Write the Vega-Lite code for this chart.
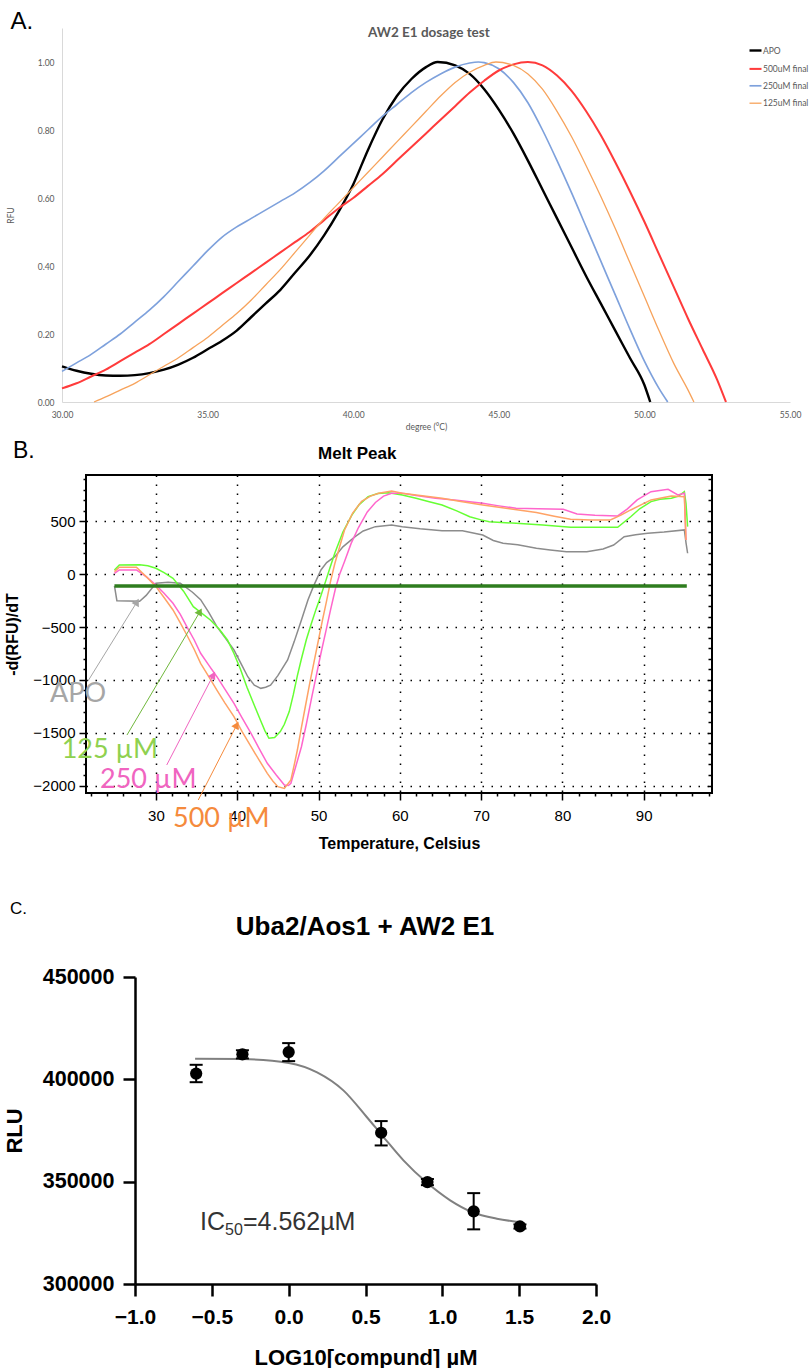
{
  "$schema": "https://vega.github.io/schema/vega-lite/v6.json",
  "padding": {"left": 3, "top": 10, "right": 0, "bottom": 0},
  "autosize": {"type": "pad"},
  "config": {
    "view": {"stroke": null},
    "font": "Liberation Sans",
    "axis": {"labelFont": "Liberation Sans", "titleFont": "Liberation Sans"},
    "title": {"font": "Liberation Sans"}
  },
  "datasets": {
    "melt": [
      {"series":"APO","T":30.0,"RFU":0.105},{"series":"APO","T":30.5,"RFU":0.092},{"series":"APO","T":31.0,"RFU":0.083},{"series":"APO","T":31.5,"RFU":0.078},{"series":"APO","T":32.0,"RFU":0.077},{"series":"APO","T":32.5,"RFU":0.079},{"series":"APO","T":33.0,"RFU":0.085},{"series":"APO","T":33.5,"RFU":0.095},{"series":"APO","T":34.0,"RFU":0.11},{"series":"APO","T":34.5,"RFU":0.13},{"series":"APO","T":35.0,"RFU":0.155},{"series":"APO","T":35.5,"RFU":0.18},{"series":"APO","T":36.0,"RFU":0.21},{"series":"APO","T":36.5,"RFU":0.25},{"series":"APO","T":37.0,"RFU":0.29},{"series":"APO","T":37.5,"RFU":0.33},{"series":"APO","T":38.0,"RFU":0.38},{"series":"APO","T":38.5,"RFU":0.43},{"series":"APO","T":39.0,"RFU":0.49},{"series":"APO","T":39.5,"RFU":0.56},{"series":"APO","T":40.0,"RFU":0.64},{"series":"APO","T":40.5,"RFU":0.74},{"series":"APO","T":41.0,"RFU":0.83},{"series":"APO","T":41.5,"RFU":0.9},{"series":"APO","T":42.0,"RFU":0.95},{"series":"APO","T":42.5,"RFU":0.985},{"series":"APO","T":42.9,"RFU":1.0},{"series":"APO","T":43.5,"RFU":0.99},{"series":"APO","T":44.0,"RFU":0.965},{"series":"APO","T":44.5,"RFU":0.92},{"series":"APO","T":45.0,"RFU":0.86},{"series":"APO","T":45.5,"RFU":0.79},{"series":"APO","T":46.0,"RFU":0.71},{"series":"APO","T":46.5,"RFU":0.625},{"series":"APO","T":47.0,"RFU":0.54},{"series":"APO","T":47.5,"RFU":0.455},{"series":"APO","T":48.0,"RFU":0.37},{"series":"APO","T":48.5,"RFU":0.29},{"series":"APO","T":49.0,"RFU":0.21},{"series":"APO","T":49.5,"RFU":0.13},{"series":"APO","T":50.0,"RFU":0.05},{"series":"APO","T":50.2,"RFU":0.0},
      {"series":"250uM final","T":30.0,"RFU":0.09},{"series":"250uM final","T":30.5,"RFU":0.115},{"series":"250uM final","T":31.0,"RFU":0.14},{"series":"250uM final","T":31.5,"RFU":0.17},{"series":"250uM final","T":32.0,"RFU":0.2},{"series":"250uM final","T":32.5,"RFU":0.235},{"series":"250uM final","T":33.0,"RFU":0.27},{"series":"250uM final","T":33.5,"RFU":0.31},{"series":"250uM final","T":34.0,"RFU":0.355},{"series":"250uM final","T":34.5,"RFU":0.4},{"series":"250uM final","T":35.0,"RFU":0.445},{"series":"250uM final","T":35.5,"RFU":0.485},{"series":"250uM final","T":36.0,"RFU":0.515},{"series":"250uM final","T":36.5,"RFU":0.54},{"series":"250uM final","T":37.0,"RFU":0.565},{"series":"250uM final","T":37.5,"RFU":0.59},{"series":"250uM final","T":38.0,"RFU":0.615},{"series":"250uM final","T":38.5,"RFU":0.645},{"series":"250uM final","T":39.0,"RFU":0.68},{"series":"250uM final","T":39.5,"RFU":0.72},{"series":"250uM final","T":40.0,"RFU":0.76},{"series":"250uM final","T":40.5,"RFU":0.8},{"series":"250uM final","T":41.0,"RFU":0.84},{"series":"250uM final","T":41.5,"RFU":0.875},{"series":"250uM final","T":42.0,"RFU":0.91},{"series":"250uM final","T":42.5,"RFU":0.94},{"series":"250uM final","T":43.0,"RFU":0.965},{"series":"250uM final","T":43.5,"RFU":0.985},{"series":"250uM final","T":44.0,"RFU":0.997},{"series":"250uM final","T":44.3,"RFU":1.0},{"series":"250uM final","T":44.5,"RFU":0.998},{"series":"250uM final","T":45.0,"RFU":0.98},{"series":"250uM final","T":45.5,"RFU":0.94},{"series":"250uM final","T":46.0,"RFU":0.88},{"series":"250uM final","T":46.5,"RFU":0.8},{"series":"250uM final","T":47.0,"RFU":0.71},{"series":"250uM final","T":47.5,"RFU":0.615},{"series":"250uM final","T":48.0,"RFU":0.515},{"series":"250uM final","T":48.5,"RFU":0.415},{"series":"250uM final","T":49.0,"RFU":0.315},{"series":"250uM final","T":49.5,"RFU":0.215},{"series":"250uM final","T":50.0,"RFU":0.12},{"series":"250uM final","T":50.5,"RFU":0.04},{"series":"250uM final","T":50.8,"RFU":0.0},
      {"series":"500uM final","T":30.0,"RFU":0.04},{"series":"500uM final","T":30.5,"RFU":0.055},{"series":"500uM final","T":31.0,"RFU":0.075},{"series":"500uM final","T":31.5,"RFU":0.095},{"series":"500uM final","T":32.0,"RFU":0.12},{"series":"500uM final","T":32.5,"RFU":0.145},{"series":"500uM final","T":33.0,"RFU":0.17},{"series":"500uM final","T":33.5,"RFU":0.2},{"series":"500uM final","T":34.0,"RFU":0.23},{"series":"500uM final","T":34.5,"RFU":0.26},{"series":"500uM final","T":35.0,"RFU":0.29},{"series":"500uM final","T":35.5,"RFU":0.32},{"series":"500uM final","T":36.0,"RFU":0.35},{"series":"500uM final","T":36.5,"RFU":0.38},{"series":"500uM final","T":37.0,"RFU":0.41},{"series":"500uM final","T":37.5,"RFU":0.44},{"series":"500uM final","T":38.0,"RFU":0.47},{"series":"500uM final","T":38.5,"RFU":0.5},{"series":"500uM final","T":39.0,"RFU":0.535},{"series":"500uM final","T":39.5,"RFU":0.57},{"series":"500uM final","T":40.0,"RFU":0.6},{"series":"500uM final","T":40.5,"RFU":0.635},{"series":"500uM final","T":41.0,"RFU":0.67},{"series":"500uM final","T":41.5,"RFU":0.71},{"series":"500uM final","T":42.0,"RFU":0.75},{"series":"500uM final","T":42.5,"RFU":0.79},{"series":"500uM final","T":43.0,"RFU":0.83},{"series":"500uM final","T":43.5,"RFU":0.87},{"series":"500uM final","T":44.0,"RFU":0.91},{"series":"500uM final","T":44.5,"RFU":0.945},{"series":"500uM final","T":45.0,"RFU":0.975},{"series":"500uM final","T":45.5,"RFU":0.993},{"series":"500uM final","T":46.0,"RFU":1.0},{"series":"500uM final","T":46.5,"RFU":0.99},{"series":"500uM final","T":47.0,"RFU":0.96},{"series":"500uM final","T":47.5,"RFU":0.915},{"series":"500uM final","T":48.0,"RFU":0.855},{"series":"500uM final","T":48.5,"RFU":0.785},{"series":"500uM final","T":49.0,"RFU":0.705},{"series":"500uM final","T":49.5,"RFU":0.62},{"series":"500uM final","T":50.0,"RFU":0.53},{"series":"500uM final","T":50.5,"RFU":0.435},{"series":"500uM final","T":51.0,"RFU":0.34},{"series":"500uM final","T":51.5,"RFU":0.245},{"series":"500uM final","T":52.0,"RFU":0.155},{"series":"500uM final","T":52.5,"RFU":0.065},{"series":"500uM final","T":52.8,"RFU":0.0},
      {"series":"125uM final","T":31.1,"RFU":0.0},{"series":"125uM final","T":31.5,"RFU":0.015},{"series":"125uM final","T":32.0,"RFU":0.035},{"series":"125uM final","T":32.5,"RFU":0.055},{"series":"125uM final","T":33.0,"RFU":0.08},{"series":"125uM final","T":33.5,"RFU":0.105},{"series":"125uM final","T":34.0,"RFU":0.13},{"series":"125uM final","T":34.5,"RFU":0.16},{"series":"125uM final","T":35.0,"RFU":0.19},{"series":"125uM final","T":35.5,"RFU":0.225},{"series":"125uM final","T":36.0,"RFU":0.26},{"series":"125uM final","T":36.5,"RFU":0.3},{"series":"125uM final","T":37.0,"RFU":0.345},{"series":"125uM final","T":37.5,"RFU":0.39},{"series":"125uM final","T":38.0,"RFU":0.44},{"series":"125uM final","T":38.5,"RFU":0.49},{"series":"125uM final","T":39.0,"RFU":0.54},{"series":"125uM final","T":39.5,"RFU":0.585},{"series":"125uM final","T":40.0,"RFU":0.63},{"series":"125uM final","T":40.5,"RFU":0.675},{"series":"125uM final","T":41.0,"RFU":0.72},{"series":"125uM final","T":41.5,"RFU":0.765},{"series":"125uM final","T":42.0,"RFU":0.81},{"series":"125uM final","T":42.5,"RFU":0.855},{"series":"125uM final","T":43.0,"RFU":0.9},{"series":"125uM final","T":43.5,"RFU":0.94},{"series":"125uM final","T":44.0,"RFU":0.97},{"series":"125uM final","T":44.5,"RFU":0.99},{"series":"125uM final","T":44.9,"RFU":1.0},{"series":"125uM final","T":45.5,"RFU":0.99},{"series":"125uM final","T":46.0,"RFU":0.965},{"series":"125uM final","T":46.5,"RFU":0.92},{"series":"125uM final","T":47.0,"RFU":0.855},{"series":"125uM final","T":47.5,"RFU":0.78},{"series":"125uM final","T":48.0,"RFU":0.695},{"series":"125uM final","T":48.5,"RFU":0.605},{"series":"125uM final","T":49.0,"RFU":0.51},{"series":"125uM final","T":49.5,"RFU":0.41},{"series":"125uM final","T":50.0,"RFU":0.31},{"series":"125uM final","T":50.5,"RFU":0.21},{"series":"125uM final","T":51.0,"RFU":0.115},{"series":"125uM final","T":51.5,"RFU":0.035},{"series":"125uM final","T":51.7,"RFU":0.0}
    ],
    "peak": [
      {"series":"APO","T":24.9,"v":-110},{"series":"APO","T":25.2,"v":-250},{"series":"APO","T":28.0,"v":-255},{"series":"APO","T":28.8,"v":-200},{"series":"APO","T":30.0,"v":-85},{"series":"APO","T":31.5,"v":-75},{"series":"APO","T":33.0,"v":-85},{"series":"APO","T":34.5,"v":-170},{"series":"APO","T":35.5,"v":-240},{"series":"APO","T":36.5,"v":-360},{"series":"APO","T":37.5,"v":-496},{"series":"APO","T":38.5,"v":-600},{"series":"APO","T":39.6,"v":-717},{"series":"APO","T":40.5,"v":-850},{"series":"APO","T":41.3,"v":-970},{"series":"APO","T":42.1,"v":-1050},{"series":"APO","T":42.9,"v":-1080},{"series":"APO","T":43.5,"v":-1070},{"series":"APO","T":44.1,"v":-1050},{"series":"APO","T":45.0,"v":-960},{"series":"APO","T":46.2,"v":-811},{"series":"APO","T":47.0,"v":-640},{"series":"APO","T":47.9,"v":-433},{"series":"APO","T":48.7,"v":-243},{"series":"APO","T":49.4,"v":-110},{"series":"APO","T":50.3,"v":41},{"series":"APO","T":51.0,"v":110},{"series":"APO","T":52.0,"v":167},{"series":"APO","T":53.0,"v":260},{"series":"APO","T":54.5,"v":356},{"series":"APO","T":55.5,"v":410},{"series":"APO","T":57.0,"v":451},{"series":"APO","T":59.0,"v":467},{"series":"APO","T":60.3,"v":451},{"series":"APO","T":62.5,"v":430},{"series":"APO","T":65.2,"v":413},{"series":"APO","T":67.7,"v":413},{"series":"APO","T":70.2,"v":372},{"series":"APO","T":71.5,"v":320},{"series":"APO","T":72.7,"v":294},{"series":"APO","T":74.5,"v":280},{"series":"APO","T":76.8,"v":246},{"series":"APO","T":78.5,"v":230},{"series":"APO","T":80.5,"v":214},{"series":"APO","T":83.0,"v":214},{"series":"APO","T":85.0,"v":240},{"series":"APO","T":86.3,"v":277},{"series":"APO","T":87.6,"v":356},{"series":"APO","T":89.0,"v":375},{"series":"APO","T":90.5,"v":388},{"series":"APO","T":92.5,"v":400},{"series":"APO","T":95.0,"v":420},{"series":"APO","T":95.2,"v":300},{"series":"APO","T":95.4,"v":199},
      {"series":"125 µM","T":24.9,"v":41},{"series":"125 µM","T":25.5,"v":88},{"series":"125 µM","T":28.0,"v":90},{"series":"125 µM","T":29.0,"v":80},{"series":"125 µM","T":30.0,"v":57},{"series":"125 µM","T":31.0,"v":15},{"series":"125 µM","T":32.1,"v":-38},{"series":"125 µM","T":33.4,"v":-160},{"series":"125 µM","T":34.6,"v":-307},{"series":"125 µM","T":35.5,"v":-360},{"series":"125 µM","T":36.7,"v":-433},{"series":"125 µM","T":37.8,"v":-520},{"series":"125 µM","T":38.8,"v":-622},{"series":"125 µM","T":39.6,"v":-750},{"series":"125 µM","T":40.4,"v":-900},{"series":"125 µM","T":41.2,"v":-1070},{"series":"125 µM","T":42.1,"v":-1240},{"series":"125 µM","T":42.9,"v":-1390},{"series":"125 µM","T":43.4,"v":-1480},{"series":"125 µM","T":43.9,"v":-1553},{"series":"125 µM","T":44.6,"v":-1545},{"series":"125 µM","T":45.3,"v":-1490},{"series":"125 µM","T":45.8,"v":-1420},{"series":"125 µM","T":46.4,"v":-1300},{"series":"125 µM","T":46.9,"v":-1140},{"series":"125 µM","T":47.4,"v":-960},{"series":"125 µM","T":47.9,"v":-800},{"series":"125 µM","T":48.5,"v":-620},{"series":"125 µM","T":49.1,"v":-470},{"series":"125 µM","T":49.7,"v":-330},{"series":"125 µM","T":50.3,"v":-200},{"series":"125 µM","T":50.9,"v":-60},{"series":"125 µM","T":51.4,"v":60},{"series":"125 µM","T":52.0,"v":200},{"series":"125 µM","T":53.0,"v":400},{"series":"125 µM","T":54.1,"v":560},{"series":"125 µM","T":55.0,"v":660},{"series":"125 µM","T":56.1,"v":735},{"series":"125 µM","T":57.3,"v":765},{"series":"125 µM","T":58.6,"v":773},{"series":"125 µM","T":60.3,"v":751},{"series":"125 µM","T":62.0,"v":720},{"series":"125 µM","T":63.5,"v":690},{"series":"125 µM","T":65.2,"v":656},{"series":"125 µM","T":67.0,"v":600},{"series":"125 µM","T":68.6,"v":545},{"series":"125 µM","T":70.0,"v":515},{"series":"125 µM","T":71.0,"v":498},{"series":"125 µM","T":72.5,"v":490},{"series":"125 µM","T":74.3,"v":483},{"series":"125 µM","T":77.6,"v":467},{"series":"125 µM","T":81.0,"v":445},{"series":"125 µM","T":84.0,"v":445},{"series":"125 µM","T":86.8,"v":445},{"series":"125 µM","T":88.4,"v":545},{"series":"125 µM","T":89.5,"v":620},{"series":"125 µM","T":90.9,"v":688},{"series":"125 µM","T":92.0,"v":710},{"series":"125 µM","T":93.4,"v":720},{"series":"125 µM","T":94.3,"v":740},{"series":"125 µM","T":95.0,"v":782},{"series":"125 µM","T":95.2,"v":672},{"series":"125 µM","T":95.4,"v":451},
      {"series":"250 µM","T":24.9,"v":9},{"series":"250 µM","T":25.5,"v":41},{"series":"250 µM","T":27.6,"v":41},{"series":"250 µM","T":28.8,"v":-22},{"series":"250 µM","T":30.0,"v":-101},{"series":"250 µM","T":31.0,"v":-180},{"series":"250 µM","T":32.1,"v":-275},{"series":"250 µM","T":33.0,"v":-380},{"series":"250 µM","T":33.8,"v":-496},{"series":"250 µM","T":34.7,"v":-620},{"series":"250 µM","T":35.5,"v":-748},{"series":"250 µM","T":36.5,"v":-860},{"series":"250 µM","T":37.5,"v":-970},{"series":"250 µM","T":38.5,"v":-1090},{"series":"250 µM","T":39.6,"v":-1222},{"series":"250 µM","T":40.6,"v":-1360},{"series":"250 µM","T":41.7,"v":-1506},{"series":"250 µM","T":42.7,"v":-1650},{"series":"250 µM","T":43.7,"v":-1790},{"series":"250 µM","T":44.8,"v":-1900},{"series":"250 µM","T":45.8,"v":-1995},{"series":"250 µM","T":46.3,"v":-2000},{"series":"250 µM","T":46.6,"v":-1979},{"series":"250 µM","T":47.2,"v":-1820},{"series":"250 µM","T":47.9,"v":-1633},{"series":"250 µM","T":48.5,"v":-1420},{"series":"250 µM","T":49.1,"v":-1190},{"series":"250 µM","T":49.7,"v":-970},{"series":"250 µM","T":50.3,"v":-748},{"series":"250 µM","T":50.9,"v":-540},{"series":"250 µM","T":51.5,"v":-330},{"series":"250 µM","T":52.1,"v":-130},{"series":"250 µM","T":52.6,"v":0},{"series":"250 µM","T":53.2,"v":120},{"series":"250 µM","T":54.0,"v":290},{"series":"250 µM","T":54.9,"v":440},{"series":"250 µM","T":56.0,"v":590},{"series":"250 µM","T":57.0,"v":680},{"series":"250 µM","T":58.0,"v":740},{"series":"250 µM","T":59.0,"v":767},{"series":"250 µM","T":60.3,"v":767},{"series":"250 µM","T":62.0,"v":745},{"series":"250 µM","T":64.4,"v":720},{"series":"250 µM","T":67.0,"v":700},{"series":"250 µM","T":70.2,"v":672},{"series":"250 µM","T":72.0,"v":650},{"series":"250 µM","T":74.3,"v":625},{"series":"250 µM","T":77.0,"v":620},{"series":"250 µM","T":80.1,"v":615},{"series":"250 µM","T":81.8,"v":571},{"series":"250 µM","T":84.0,"v":560},{"series":"250 µM","T":86.8,"v":552},{"series":"250 µM","T":88.0,"v":620},{"series":"250 µM","T":89.2,"v":704},{"series":"250 µM","T":90.9,"v":782},{"series":"250 µM","T":93.0,"v":805},{"series":"250 µM","T":94.2,"v":751},{"series":"250 µM","T":95.0,"v":767},{"series":"250 µM","T":95.2,"v":325},
      {"series":"500 µM","T":24.9,"v":25},{"series":"500 µM","T":25.5,"v":66},{"series":"500 µM","T":27.6,"v":66},{"series":"500 µM","T":28.8,"v":-22},{"series":"500 µM","T":30.0,"v":-117},{"series":"500 µM","T":31.0,"v":-220},{"series":"500 µM","T":32.1,"v":-338},{"series":"500 µM","T":33.0,"v":-460},{"series":"500 µM","T":33.8,"v":-575},{"series":"500 µM","T":34.7,"v":-710},{"series":"500 µM","T":35.5,"v":-843},{"series":"500 µM","T":36.5,"v":-970},{"series":"500 µM","T":37.5,"v":-1096},{"series":"500 µM","T":38.5,"v":-1220},{"series":"500 µM","T":39.6,"v":-1348},{"series":"500 µM","T":40.6,"v":-1490},{"series":"500 µM","T":41.7,"v":-1633},{"series":"500 µM","T":42.7,"v":-1760},{"series":"500 µM","T":43.7,"v":-1885},{"series":"500 µM","T":44.4,"v":-1960},{"series":"500 µM","T":45.0,"v":-2011},{"series":"500 µM","T":45.8,"v":-2027},{"series":"500 µM","T":46.6,"v":-1948},{"series":"500 µM","T":47.0,"v":-1810},{"series":"500 µM","T":47.4,"v":-1664},{"series":"500 µM","T":47.9,"v":-1450},{"series":"500 µM","T":48.3,"v":-1285},{"series":"500 µM","T":48.9,"v":-1040},{"series":"500 µM","T":49.5,"v":-811},{"series":"500 µM","T":50.0,"v":-620},{"series":"500 µM","T":50.5,"v":-430},{"series":"500 µM","T":51.0,"v":-250},{"series":"500 µM","T":51.5,"v":-60},{"series":"500 µM","T":52.0,"v":100},{"series":"500 µM","T":52.6,"v":260},{"series":"500 µM","T":53.2,"v":420},{"series":"500 µM","T":54.2,"v":580},{"series":"500 µM","T":55.3,"v":690},{"series":"500 µM","T":56.4,"v":740},{"series":"500 µM","T":57.4,"v":767},{"series":"500 µM","T":59.0,"v":789},{"series":"500 µM","T":60.3,"v":767},{"series":"500 µM","T":62.5,"v":745},{"series":"500 µM","T":65.2,"v":720},{"series":"500 µM","T":67.5,"v":690},{"series":"500 µM","T":70.2,"v":656},{"series":"500 µM","T":73.5,"v":620},{"series":"500 µM","T":76.8,"v":584},{"series":"500 µM","T":79.0,"v":550},{"series":"500 µM","T":81.0,"v":521},{"series":"500 µM","T":83.5,"v":515},{"series":"500 µM","T":85.9,"v":514},{"series":"500 µM","T":87.2,"v":560},{"series":"500 µM","T":88.4,"v":609},{"series":"500 µM","T":90.9,"v":704},{"series":"500 µM","T":93.4,"v":741},{"series":"500 µM","T":95.0,"v":735},{"series":"500 µM","T":95.2,"v":325}
    ],
    "base": [{"T":24.9,"v":-110},{"T":95.3,"v":-110}],
    "arrows": [
      {"who":"APO","x1":21.65,"y1":-1010,"x2":27.67,"y2":-262},
      {"who":"125 µM","x1":26.44,"y1":-1522,"x2":35.42,"y2":-354},
      {"who":"250 µM","x1":31.33,"y1":-1806,"x2":37.06,"y2":-954},
      {"who":"500 µM","x1":35.21,"y1":-2137,"x2":39.94,"y2":-1427}
    ],
    "labels": [
      {"who":"APO","text":"APO","x":16.97,"y":-1206},
      {"who":"125 µM","text":"125 µM","x":18.41,"y":-1740},
      {"who":"250 µM","text":"250 µM","x":23.12,"y":-2024},
      {"who":"500 µM","text":"500 µM","x":32.10,"y":-2393}
    ],
    "ic": [
      {"logc":-0.602,"rlu":402800,"lo":398600,"hi":407100},
      {"logc":-0.301,"rlu":412200,"lo":410200,"hi":414200},
      {"logc":0.0,"rlu":413300,"lo":408900,"hi":417700},
      {"logc":0.602,"rlu":373900,"lo":367700,"hi":379600},
      {"logc":0.903,"rlu":349800,"lo":348300,"hi":351300},
      {"logc":1.204,"rlu":335500,"lo":326700,"hi":344400},
      {"logc":1.505,"rlu":328100,"lo":327100,"hi":329100}
    ],
    "fit": [
      {"logc":-0.609,"rlu":410100},{"logc":-0.3,"rlu":409900},{"logc":0.0,"rlu":408000},{"logc":0.185,"rlu":403400},{"logc":0.356,"rlu":394600},{"logc":0.508,"rlu":381600},{"logc":0.617,"rlu":371800},{"logc":0.747,"rlu":360400},{"logc":0.895,"rlu":349800},{"logc":1.051,"rlu":340900},{"logc":1.192,"rlu":335200},{"logc":1.355,"rlu":331900},{"logc":1.495,"rlu":330300}
    ]
  },
  "spacing": 7,
  "vconcat": [
    {
      "width": 728,
      "height": 374,
      "layer": [
        {
          "data": {"name": "melt"},
          "mark": {"type": "line", "interpolate": "monotone"},
          "encoding": {
            "x": {"field": "T", "type": "quantitative", "scale": {"domain": [30, 55], "nice": false, "zero": false},
              "axis": {"values": [30, 35, 40, 45, 50, 55], "format": ".2f", "grid": false, "ticks": false, "domainColor": "#d9d9d9", "labelFont": "Lato", "labelFontSize": 8.5, "labelColor": "#595959", "labelPadding": 8, "labelFlush": false, "title": "degree (°C)", "titleFont": "Lato", "titleFontSize": 8.5, "titleFontWeight": "normal", "titleColor": "#595959", "titlePadding": 4}},
            "y": {"field": "RFU", "type": "quantitative", "scale": {"domain": [0, 1.1], "nice": false},
              "axis": {"values": [0, 0.2, 0.4, 0.6, 0.8, 1.0], "format": ".2f", "grid": false, "ticks": false, "domainColor": "#d9d9d9", "labelFont": "Lato", "labelFontSize": 8.5, "labelColor": "#595959", "labelPadding": 8, "title": "RFU", "titleFont": "Lato", "titleFontSize": 8.5, "titleFontWeight": "normal", "titleColor": "#595959", "titlePadding": 22}},
            "color": {"field": "series", "type": "nominal",
              "scale": {"domain": ["APO", "500uM final", "250uM final", "125uM final"], "range": ["#000000", "#ff3b3b", "#7ea1dc", "#f7a35c"]},
              "legend": {"orient": "none", "legendX": 686, "legendY": 15, "title": null, "symbolType": "stroke", "symbolSize": 144, "labelFont": "Lato", "labelFontSize": 8.5, "labelColor": "#595959", "rowPadding": 5.4, "labelOffset": 0}},
            "strokeWidth": {"field": "series", "type": "nominal",
              "scale": {"domain": ["APO", "500uM final", "250uM final", "125uM final"], "range": [2.4, 1.3, 1.3, 1.3]},
              "legend": {"orient": "none", "legendX": 686, "legendY": 15, "title": null, "symbolType": "stroke", "symbolSize": 144, "labelFont": "Lato", "labelFontSize": 8.5, "labelColor": "#595959", "rowPadding": 5.4, "labelOffset": 0}}
          }
        },
        {
          "data": {"values": [{}]},
          "mark": {"type": "text", "align": "left", "baseline": "alphabetic", "fontSize": 24, "color": "black"},
          "encoding": {"x": {"datum": 28.23}, "y": {"datum": 1.096}, "text": {"value": "A."}}
        },
        {
          "data": {"values": [{}]},
          "mark": {"type": "text", "align": "center", "baseline": "alphabetic", "font": "Lato", "fontSize": 13.5, "fontWeight": "bold", "color": "#595959"},
          "encoding": {"x": {"datum": 42.6}, "y": {"datum": 1.074}, "text": {"value": "AW2 E1 dosage test"}}
        }
      ]
    },
    {
      "spacing": 48,
      "vconcat": [
        {
          "hconcat": [
            {"width": 24, "height": 1, "data": {"values": []}, "mark": "point"},
            {
              "width": 626,
              "height": 318,
              "view": {"stroke": "black", "strokeWidth": 2},
              "layer": [
                {
                  "data": {"name": "peak"},
                  "mark": {"type": "line", "strokeWidth": 1.5},
                  "encoding": {
                    "x": {"field": "T", "type": "quantitative", "scale": {"domain": [21.4, 98.4], "nice": false, "zero": false},
                      "axis": {"orient": "bottom", "values": [30, 40, 50, 60, 70, 80, 90], "labelOverlap": false, "labelFlush": false, "domain": false,
                        "tickColor": "black", "tickWidth": 1.5, "tickSize": 7,
                        "grid": true, "gridColor": "black", "gridDash": [1.5, 7.5], "gridWidth": 1.5,
                        "labelFontSize": 15, "labelColor": "black", "labelPadding": 8,
                        "title": "Temperature, Celsius", "titleFontSize": 16, "titleFontWeight": "bold", "titleColor": "black", "titlePadding": 12}},
                    "y": {"field": "v", "type": "quantitative", "scale": {"domain": [-2071, 940], "nice": false, "zero": false},
                      "axis": {"orient": "left", "values": [-2000, -1500, -1000, -500, 0, 500], "format": "d", "labelOverlap": false, "domain": false,
                        "tickColor": "black", "tickWidth": 1.5, "tickSize": 7,
                        "grid": true, "gridColor": "black", "gridDash": [1.5, 7.5], "gridWidth": 1.5,
                        "labelFontSize": 15, "labelColor": "black", "labelPadding": 4,
                        "title": "-d(RFU)/dT", "titleFontSize": 16, "titleFontWeight": "bold", "titleColor": "black", "titlePadding": 12}},
                    "color": {"field": "series", "type": "nominal",
                      "scale": {"domain": ["APO", "125 µM", "250 µM", "500 µM"], "range": ["#8c8c8c", "#66ff33", "#ff66cc", "#ffa366"]}, "legend": null}
                  }
                },
                {
                  "data": {"name": "base"},
                  "mark": {"type": "line", "color": "#2e7d1e", "strokeWidth": 3.5},
                  "encoding": {
                    "x": {"field": "T", "type": "quantitative",
                      "axis": {"orient": "bottom", "values": [22,24,26,28,32,34,36,38,42,44,46,48,52,54,56,58,62,64,66,68,72,74,76,78,82,84,86,88,92,94,96,98], "labels": false, "grid": false, "domain": false, "tickColor": "black", "tickWidth": 1.5, "tickSize": 3, "title": null}},
                    "y": {"field": "v", "type": "quantitative",
                      "axis": {"orient": "left", "values": [-1900,-1800,-1700,-1600,-1400,-1300,-1200,-1100,-900,-800,-700,-600,-400,-300,-200,-100,100,200,300,400,600,700,800,900], "labels": false, "grid": false, "domain": false, "tickColor": "black", "tickWidth": 1.5, "tickSize": 3, "title": null}}
                  }
                },
                {
                  "data": {"name": "arrows"},
                  "mark": {"type": "rule", "strokeWidth": 1},
                  "encoding": {
                    "x": {"field": "x1", "type": "quantitative", "axis": null},
                    "y": {"field": "y1", "type": "quantitative",
                      "axis": {"orient": "right", "values": [-2000,-1900,-1800,-1700,-1600,-1500,-1400,-1300,-1200,-1100,-1000,-900,-800,-700,-600,-500,-400,-300,-200,-100,0,100,200,300,400,500,600,700,800,900], "labels": false, "grid": false, "domain": false, "tickColor": "black", "tickWidth": 1.5, "tickSize": -4, "title": null}},
                    "x2": {"field": "x2"}, "y2": {"field": "y2"},
                    "color": {"field": "who", "type": "nominal", "scale": {"domain": ["APO", "125 µM", "250 µM", "500 µM"], "range": ["#a6a6a6", "#70b83c", "#f064c0", "#f58a3c"]}, "legend": null}
                  }
                },
                {
                  "data": {"name": "arrows"},
                  "mark": {"type": "point", "shape": "triangle-up", "angle": 29, "size": 70, "filled": true, "opacity": 1},
                  "encoding": {
                    "x": {"field": "x2", "type": "quantitative", "axis": null}, "y": {"field": "y2", "type": "quantitative", "axis": null},
                    "color": {"field": "who", "type": "nominal", "scale": {"domain": ["APO", "125 µM", "250 µM", "500 µM"], "range": ["#a6a6a6", "#70b83c", "#f064c0", "#f58a3c"]}, "legend": null}
                  }
                },
                {
                  "data": {"name": "labels"},
                  "mark": {"type": "text", "font": "Lato", "fontSize": 27, "align": "left", "baseline": "alphabetic"},
                  "encoding": {
                    "x": {"field": "x", "type": "quantitative", "axis": null}, "y": {"field": "y", "type": "quantitative", "axis": null},
                    "text": {"field": "text"},
                    "color": {"field": "who", "type": "nominal", "scale": {"domain": ["APO", "125 µM", "250 µM", "500 µM"], "range": ["#a6a6a6", "#8fd14f", "#f064c0", "#f58a3c"]}, "legend": null}
                  }
                },
                {
                  "data": {"values": [{}]},
                  "mark": {"type": "text", "align": "left", "baseline": "alphabetic", "fontSize": 23, "color": "black"},
                  "encoding": {"x": {"datum": 12.42, "axis": null}, "y": {"datum": 1101, "axis": null}, "text": {"value": "B."}}
                },
                {
                  "data": {"values": [{}]},
                  "mark": {"type": "text", "align": "left", "baseline": "alphabetic", "fontSize": 17, "fontWeight": "bold", "color": "black"},
                  "encoding": {"x": {"datum": 49.94, "axis": null}, "y": {"datum": 1092, "axis": null}, "text": {"value": "Melt Peak"}}
                }
              ],
              "resolve": {"scale": {"color": "independent"}, "axis": {"x": "independent", "y": "independent"}}
            }
          ],
          "spacing": 0,
          "bounds": "flush"
        },
        {
          "hconcat": [
            {"width": 73, "height": 1, "data": {"values": []}, "mark": "point"},
            {
              "width": 461,
              "height": 307,
              "layer": [
                {
                  "data": {"name": "fit"},
                  "mark": {"type": "line", "color": "#808080", "strokeWidth": 2, "interpolate": "monotone"},
                  "encoding": {
                    "x": {"field": "logc", "type": "quantitative", "scale": {"domain": [-1, 2], "nice": false, "zero": false},
                      "axis": {"values": [-1, -0.5, 0, 0.5, 1, 1.5, 2], "format": ".1f", "labelFlush": false, "grid": false, "domainColor": "black", "domainWidth": 2.5, "tickColor": "black", "tickWidth": 2.5, "tickSize": 12, "labelFontSize": 21, "labelFontWeight": "bold", "labelColor": "black", "labelPadding": 10, "title": "LOG10[compund] µM", "titleFontSize": 22, "titleFontWeight": "bold", "titleColor": "black", "titlePadding": 20}},
                    "y": {"field": "rlu", "type": "quantitative", "scale": {"domain": [300000, 450000], "nice": false, "zero": false},
                      "axis": {"values": [300000, 350000, 400000, 450000], "format": "d", "grid": false, "domainColor": "black", "domainWidth": 2.5, "tickColor": "black", "tickWidth": 2.5, "tickSize": 12, "labelFontSize": 21.5, "labelFontWeight": "bold", "labelColor": "black", "labelPadding": 9, "title": "RLU", "titleFont": "Liberation Sans", "titleFontSize": 22, "titleFontWeight": "bold", "titleColor": "black", "titlePadding": 16}}
                  }
                },
                {
                  "data": {"name": "ic"},
                  "mark": {"type": "rule", "color": "black", "strokeWidth": 2},
                  "encoding": {"x": {"field": "logc", "type": "quantitative"}, "y": {"field": "lo", "type": "quantitative"}, "y2": {"field": "hi"}}
                },
                {
                  "data": {"name": "ic"},
                  "mark": {"type": "tick", "orient": "horizontal", "color": "black", "size": 13, "thickness": 2, "opacity": 1},
                  "encoding": {"x": {"field": "logc", "type": "quantitative"}, "y": {"field": "lo", "type": "quantitative"}}
                },
                {
                  "data": {"name": "ic"},
                  "mark": {"type": "tick", "orient": "horizontal", "color": "black", "size": 13, "thickness": 2, "opacity": 1},
                  "encoding": {"x": {"field": "logc", "type": "quantitative"}, "y": {"field": "hi", "type": "quantitative"}}
                },
                {
                  "data": {"name": "ic"},
                  "mark": {"type": "circle", "color": "black", "size": 150, "opacity": 1},
                  "encoding": {"x": {"field": "logc", "type": "quantitative"}, "y": {"field": "rlu", "type": "quantitative"}}
                },
                {
                  "data": {"values": [{}]},
                  "mark": {"type": "text", "align": "left", "baseline": "alphabetic", "fontSize": 25, "color": "#333333"},
                  "encoding": {"x": {"datum": -0.577}, "y": {"datum": 326400}, "text": {"value": "IC"}}
                },
                {
                  "data": {"values": [{}]},
                  "mark": {"type": "text", "align": "left", "baseline": "alphabetic", "fontSize": 16, "color": "#333333", "dx": 25, "dy": 5},
                  "encoding": {"x": {"datum": -0.577}, "y": {"datum": 326400}, "text": {"value": "50"}}
                },
                {
                  "data": {"values": [{}]},
                  "mark": {"type": "text", "align": "left", "baseline": "alphabetic", "fontSize": 25, "color": "#333333", "dx": 43},
                  "encoding": {"x": {"datum": -0.577}, "y": {"datum": 326400}, "text": {"value": "=4.562µM"}}
                },
                {
                  "data": {"values": [{}]},
                  "mark": {"type": "text", "align": "left", "baseline": "alphabetic", "fontSize": 17, "color": "black"},
                  "encoding": {"x": {"datum": -1.814}, "y": {"datum": 480600}, "text": {"value": "C."}}
                },
                {
                  "data": {"values": [{}]},
                  "mark": {"type": "text", "align": "center", "baseline": "alphabetic", "fontSize": 26, "fontWeight": "bold", "color": "black"},
                  "encoding": {"x": {"datum": 0.497}, "y": {"datum": 470330}, "text": {"value": "Uba2/Aos1 + AW2 E1"}}
                }
              ]
            }
          ],
          "spacing": 0,
          "bounds": "flush"
        }
      ]
    }
  ]
}
